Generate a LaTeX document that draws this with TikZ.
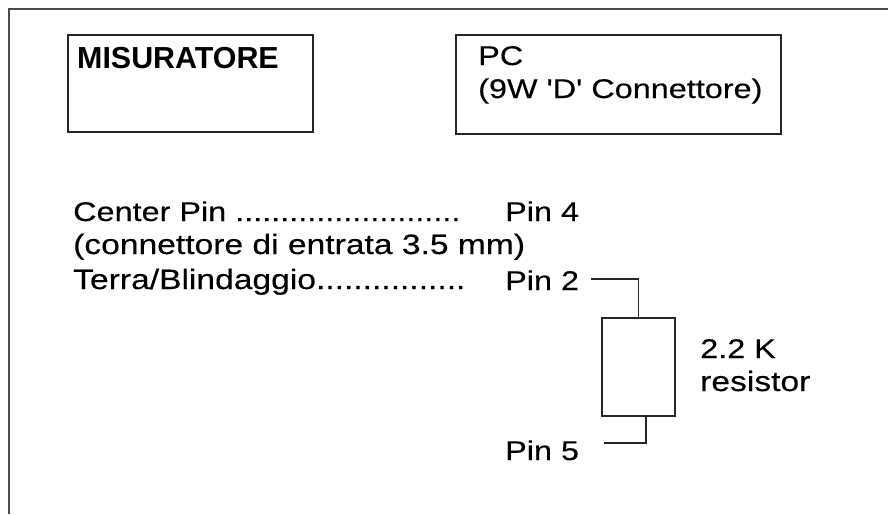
\documentclass[tikz,border=0pt]{standalone}
\usepackage{fontspec}
\setsansfont{Liberation Sans}
\newfontfamily\widefont[FakeStretch=1.2,FakeBold=0.3]{Liberation Sans}
\tikzset{
  boxline/.style={line width=1.8pt,black!85},
  pintext/.style={black,anchor=base west,inner sep=0pt,font=\fontsize{28}{28}\widefont},
  smalltext/.style={pintext,font=\fontsize{27}{27}\widefont},
  heading/.style={pintext,font=\fontsize{30.4}{30}\sffamily\bfseries},
}
\begin{document}
\begin{tikzpicture}[y=-1pt, x=1pt,font=\sffamily]
  \useasboundingbox (0,0) rectangle (888,514);

  % Outline, open on the right and at the bottom.
  \draw[line width=2.2pt,black!70] (9,514) -- (9,9) -- (888,9);

  % Boxes at the top.
  \node[boxline,draw,minimum width=245pt,minimum height=97pt,anchor=north west] (meter) at (67,34) {};
  \node[boxline,draw,minimum width=325pt,minimum height=99pt,anchor=north west] (pc) at (455,34) {};

  % Text in the boxes
  \node[heading] (metertext) at (77,68) {MISURATORE};
  \node[smalltext] (pctext) at (478,65) {PC};
  \node[smalltext] (pcplug) at (478,98) {(9W 'D' Connettore)};

  % Text on the left side
  \node[smalltext] (center) at (73,221) {Center Pin .........................};
  \node[pintext] (plug) at (73,254) {(connettore di entrata 3.5 mm)};
  \node[pintext] (shield) at (73,289) {Terra/Blindaggio................};

  % Pins
  \node[smalltext] (pinfour) at (505,221) {Pin 4};
  \node[smalltext] (pintwo) at (505,290) {Pin 2};
  \node[smalltext] (pinfive) at (505,460) {Pin 5};

  % The resistor and its wires
  \node[boxline,draw,minimum width=73pt,minimum height=98pt,anchor=north west] (resistor) at (601,317) {};
  \coordinate (wiretwo) at (591,279);
  \coordinate (wirefive) at (604,443);
  \coordinate (leg) at (646,415);
  \draw[boxline] (wiretwo) -| (resistor.north);
  \draw[boxline] (wirefive) -| (leg);

  \node[smalltext] (value) at (700,358) {2.2 K};
  \node[pintext] (kind) at (700,391) {resistor};

\end{tikzpicture}
\end{document}
